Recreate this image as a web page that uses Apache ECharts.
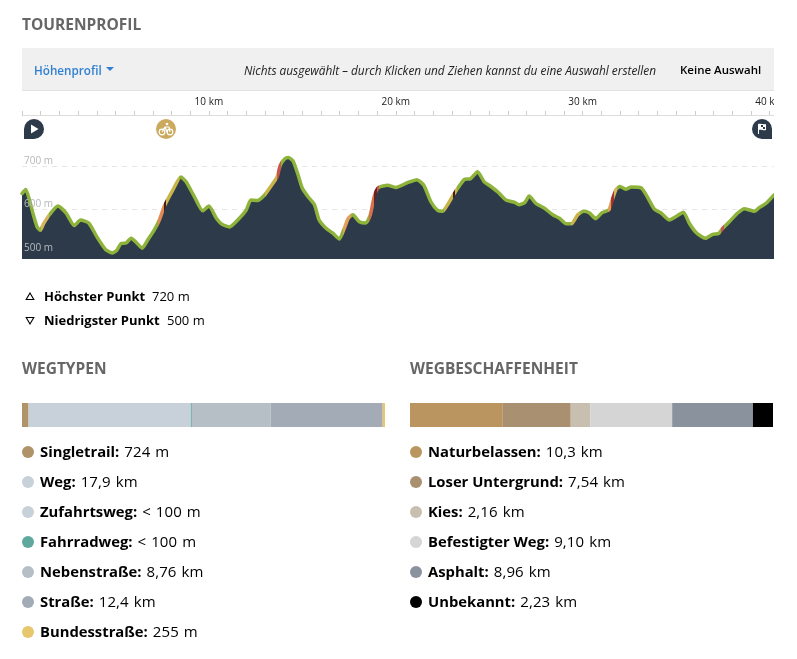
<!DOCTYPE html>
<html lang="de">
<head>
  <meta charset="UTF-8">
  <title>Tourenprofil</title>
  <script src="https://cdn.jsdelivr.net/npm/echarts@6/dist/echarts.min.js"></script>
  <style>
    body { margin: 0; background: #fff; font-family: "Open Sans", sans-serif; color: #000; }
    #page { position: relative; width: 797px; height: 659px; overflow: hidden; }
    #chart { position: absolute; left: 0; top: 0; width: 774px; height: 659px; }
    .abs { position: absolute; white-space: nowrap; }
    .heading { font-size: 15.5px; font-weight: 700; color: #666; line-height: 20px; }
    #toolbar { position: absolute; left: 22px; top: 48px; width: 752px; height: 42px; background: #f0f0f0; border-bottom: 1px solid #e2e2e2; }
    .bullet { position: absolute; width: 12px; height: 12px; border-radius: 50%; }
    .row { font-size: 15px; line-height: 20px; letter-spacing: 0.1px; word-spacing: 1px; }
    .row b { font-weight: 700; font-size: 14.8px; letter-spacing: 0; word-spacing: 0; }
    .pin { position: absolute; top: 119px; width: 20px; height: 20px; }
  </style>
</head>
<body>
<div id="page">
  <div id="toolbar"></div>
  <div id="chart"></div>
  <div class="abs heading" style="left:22px;top:14px">TOURENPROFIL</div>
  <div class="abs" style="left:34px;top:60px;font-size:11.7px;line-height:20px;font-weight:600;color:#2f7fd3">Höhenprofil</div>
  <div class="abs" style="left:106px;top:67px;width:0;height:0;border:4px solid transparent;border-top:4px solid #2f7fd3;border-bottom:0"></div>
  <div class="abs" style="left:244px;top:60px;font-size:11.85px;line-height:20px;font-style:italic;color:#222">Nichts ausgewählt – durch Klicken und Ziehen kannst du eine Auswahl erstellen</div>
  <div class="abs" style="left:680px;top:60px;font-size:11.5px;line-height:20px;font-weight:600">Keine Auswahl</div>

  <svg class="pin" style="left:24px" viewBox="0 0 20 20"><path d="M10 0a10 10 0 0 1 0 20H0V10A10 10 0 0 1 10 0z" fill="#2d3a4a"/><path d="M7 5.5l7.5 4.5L7 14.500z" fill="#fff"/></svg>
  <svg class="pin" style="left:156px" viewBox="0 0 20 20"><circle cx="10" cy="10" r="10" fill="#cba95f"/><g fill="none" stroke="#fff" stroke-width="1.200"><circle cx="6" cy="13" r="2.800"/><circle cx="14" cy="13" r="2.800"/><path d="M6 13l3-5h4l1 5M9 8l2 5"/></g><circle cx="11" cy="5" r="1.300" fill="#fff"/></svg>
  <svg class="pin" style="left:752px" viewBox="0 0 20 20"><path d="M10 0a10 10 0 0 1 10 10v10H10A10 10 0 0 1 10 0z" fill="#2d3a4a"/><path d="M6 15V5c3-1 5 1 8 0v6c-3 1-5-1-7 0v4z" fill="#fff"/><path d="M9 6h2v2H9zM11 8h2v2h-2z" fill="#2d3a4a"/></svg>

  <svg class="abs" style="left:25px;top:292px" width="10" height="9"><path d="M5 1l3.800 6.500H1.200z" fill="none" stroke="#000" stroke-width="1.100"/></svg>
  <div class="abs" style="left:44px;top:286px;font-size:13px;line-height:20px;font-weight:700">Höchster Punkt</div>
  <div class="abs" style="left:152px;top:286px;font-size:13px;line-height:20px">720 m</div>
  <svg class="abs" style="left:25px;top:316px" width="10" height="9"><path d="M5 8L8.800 1.500H1.200z" fill="none" stroke="#000" stroke-width="1.100"/></svg>
  <div class="abs" style="left:44px;top:310px;font-size:13px;line-height:20px;font-weight:700">Niedrigster Punkt</div>
  <div class="abs" style="left:167px;top:310px;font-size:13px;line-height:20px">500 m</div>

  <div class="abs heading" style="left:22px;top:358px">WEGTYPEN</div>
  <div class="abs heading" style="left:410px;top:358px">WEGBESCHAFFENHEIT</div>
</div>

<script>
  // Höhenprofil
  var profileKm = [0, 0.2, 0.4, 0.58, 0.8, 0.97, 1.15, 1.47, 1.92, 2.36, 2.8, 3.13, 3.57, 4.05, 4.47, 4.82, 5.07, 5.3, 5.57, 5.84, 6.14, 6.43, 6.73, 7.08, 7.35, 7.62, 8.07, 8.5, 8.78, 9.22, 9.67, 10, 10.4, 10.7, 11.1, 11.63, 12, 12.25, 12.6, 12.97, 13.32, 13.65, 13.82, 14.04, 14.25, 14.5, 14.75, 15, 15.3, 15.65, 15.9, 16.27, 16.62, 16.98, 17.25, 17.46, 17.7, 18.05, 18.4, 18.64, 18.85, 19.08, 19.57, 20, 20.63, 21.13, 21.5, 21.88, 22.24, 22.5, 22.77, 23.13, 23.66, 24, 24.38, 24.73, 25, 25.45, 25.9, 26.34, 26.6, 26.9, 27.14, 27.5, 27.96, 28.4, 28.76, 29.12, 29.4, 29.74, 30.05, 30.37, 30.7, 31.04, 31.4, 31.58, 31.8, 32, 32.3, 32.6, 33.13, 33.4, 33.84, 34.2, 34.64, 35, 35.39, 35.7, 36.07, 36.57, 36.96, 37.28, 37.5, 37.85, 38.3, 38.65, 39.2, 39.46, 39.8, 40.24];
  var profileM = [637, 646, 622, 592, 561, 552, 567, 588, 608, 592, 563, 576, 569, 534, 508, 500, 506, 522, 523, 534, 523, 511, 530, 553, 576, 608, 645, 675, 664, 630, 597, 608, 580, 566, 560, 580, 599, 622, 621, 633, 654, 675, 702, 716, 720, 712, 683, 649, 630, 611, 576, 557, 546, 532, 557, 580, 588, 572, 569, 588, 630, 651, 656, 651, 662, 669, 656, 618, 598, 596, 611, 637, 669, 671, 687, 664, 656, 641, 622, 617, 611, 616, 631, 614, 603, 588, 580, 567, 567, 588, 596, 592, 579, 593, 599, 622, 647, 653, 647, 652, 650, 634, 601, 592, 576, 584, 594, 569, 547, 534, 543, 545, 557, 572, 592, 602, 596, 605, 614, 634];
  var elevationTicks = [500, 600, 700];
  var kmTicks = [0, 1, 2, 3, 4, 5, 6, 7, 8, 9, 10, 11, 12, 13, 14, 15, 16, 17, 18, 19, 20, 21, 22, 23, 24, 25, 26, 27, 28, 29, 30, 31, 32, 33, 34, 35, 36, 37, 38, 39, 40];
  var kmLabels = [10, 20, 30, 40];

  // Steigungsabschnitte: von km, bis km, Farbe
  var gradeFrom = [1.03, 7.3, 7.58, 7.68, 13, 13.62, 17.2, 18.58, 18.85, 19, 22.6, 23.05, 23.15, 29.4, 31.38, 31.52, 31.66, 37.38];
  var gradeTo = [1.47, 7.58, 7.68, 8.4, 13.62, 13.85, 17.6, 18.85, 19, 19.1, 23.05, 23.15, 23.3, 29.85, 31.52, 31.66, 31.85, 37.55];
  var gradeColors = ['#d6b45c', '#e08a55', '#4a1c1c', '#c9b44a', '#c9b44a', '#c8564a', '#e0a058', '#d9704c', '#6a1f24', '#c8564a', '#c9b44a', '#4a1c1c', '#c9b44a', '#c9b44a', '#e0a058', '#a8322c', '#d6b45c', '#c8564a'];

  var wayTypes = ['Singletrail', 'Weg', 'Zufahrtsweg', 'Fahrradweg', 'Nebenstraße', 'Straße', 'Bundesstraße'];
  var wayTypeKm = [0.724, 17.9, 0.09, 0.09, 8.76, 12.4, 0.255];
  var wayTypeLabels = ['724 m', '17,9 km', '< 100 m', '< 100 m', '8,76 km', '12,4 km', '255 m'];
  var wayTypeColors = ['#b09368', '#c8d0d9', '#c8d0d9', '#5ea89e', '#b7bfc6', '#a3abb7', '#e8c66e'];

  var surfaces = ['Naturbelassen', 'Loser Untergrund', 'Kies', 'Befestigter Weg', 'Asphalt', 'Unbekannt'];
  var surfaceKm = [10.3, 7.54, 2.16, 9.1, 8.96, 2.23];
  var surfaceLabels = ['10,3 km', '7,54 km', '2,16 km', '9,10 km', '8,96 km', '2,23 km'];
  var surfaceColors = ['#ba9560', '#a89070', '#c9bfb0', '#d5d5d5', '#8a929e', '#000000'];

  function sum(list) {
    return list.reduce(function (a, b) { return a + b; }, 0);
  }

  // Legenden als echter Text
  function addLegend(x, names, labels, colors) {
    var page = document.getElementById('page');
    names.forEach(function (name, i) {
      var y = 451.5 + i * 30;
      var dot = document.createElement('div');
      dot.className = 'bullet';
      dot.style.left = x + 'px';
      dot.style.top = (y - 6) + 'px';
      dot.style.background = colors[i];
      page.appendChild(dot);

      var row = document.createElement('div');
      row.className = 'abs row';
      row.style.left = (x + 18) + 'px';
      row.style.top = (y - 11) + 'px';
      var b = document.createElement('b');
      b.textContent = name + ':';
      row.appendChild(b);
      row.appendChild(document.createTextNode(' ' + labels[i]));
      page.appendChild(row);
    });
  }
  addLegend(22, wayTypes, wayTypeLabels, wayTypeColors);
  addLegend(410, surfaces, surfaceLabels, surfaceColors);

  function stackedBars(names, values, colors, axisIndex, stack) {
    return names.map(function (name, i) {
      return {
        type: 'bar',
        name: name,
        stack: stack,
        xAxisIndex: axisIndex,
        yAxisIndex: axisIndex,
        barWidth: '100%',
        barMinHeight: 1, // sonst verschwindet der Fahrradweg
        silent: true,
        itemStyle: { color: colors[i] },
        data: [values[i]]
      };
    });
  }

  function hiddenValueAxis(gridIndex, total) {
    return { type: 'value', gridIndex: gridIndex, min: 0, max: total, show: false };
  }
  function hiddenCategoryAxis(gridIndex) {
    return { type: 'category', gridIndex: gridIndex, data: ['Anteil'], show: false };
  }

  var profileData = profileKm.map(function (km, i) { return [km, profileM[i]]; });
  var gradePieces = gradeFrom.map(function (from, i) {
    return { gte: from, lt: gradeTo[i], color: gradeColors[i] };
  });

  var chart = echarts.init(document.getElementById('chart'));
  chart.setOption({
    animation: false,
    grid: [
      // das 40-km-Label darf rechts abgeschnitten werden
      { left: 22, right: 0, top: 115, height: 144, outerBoundsMode: 'none' },
      { left: 22, top: 403, width: 363, height: 24 },
      { left: 410, top: 403, width: 363, height: 24 }
    ],
    xAxis: [
      {
        type: 'value',
        gridIndex: 0,
        position: 'top',
        min: 0,
        max: 40.24,
        splitLine: { show: false },
        axisLine: { show: true, lineStyle: { color: '#dddddd', width: 1 } },
        axisTick: { show: true, length: 4, inside: false, customValues: kmTicks, lineStyle: { color: '#cccccc' } },
        axisLabel: {
          margin: 8,
          fontSize: 10,
          fontFamily: 'Open Sans',
          color: '#222',
          hideOverlap: false,
          customValues: kmLabels,
          formatter: '{value} km'
        }
      },
      hiddenValueAxis(1, sum(wayTypeKm)),
      hiddenValueAxis(2, sum(surfaceKm))
    ],
    yAxis: [
      {
        // nur die gestrichelten Linien, hinter der Fläche
        type: 'value',
        gridIndex: 0,
        position: 'left',
        min: 486,
        max: 818,
        axisLine: { show: false },
        axisTick: { show: false, customValues: elevationTicks },
        axisLabel: { show: false },
        splitLine: { show: true, lineStyle: { color: '#e6e6e6', type: [5, 5], width: 1 } }
      },
      hiddenCategoryAxis(1),
      hiddenCategoryAxis(2),
      {
        // Beschriftung liegt über der Fläche
        type: 'value',
        gridIndex: 0,
        position: 'left',
        min: 486,
        max: 818,
        z: 5,
        axisLine: { show: false, onZero: false },
        axisTick: { show: false },
        splitLine: { show: false },
        axisLabel: {
          inside: true,
          customValues: elevationTicks,
          margin: 2,
          fontSize: 10,
          fontFamily: 'Open Sans',
          color: '#b4b8bd',
          verticalAlign: 'bottom',
          formatter: '{value} m'
        }
      }
    ],
    visualMap: {
      type: 'piecewise',
      show: false,
      dimension: 0,
      seriesIndex: 1,
      pieces: gradePieces,
      outOfRange: { color: '#8db33a' }
    },
    series: [
      {
        type: 'line',
        name: 'Fläche',
        data: profileData,
        smooth: 0.2,
        symbol: 'none',
        silent: true,
        lineStyle: { width: 0 },
        areaStyle: { color: '#2d3a4a', opacity: 1 }
      },
      {
        type: 'line',
        name: 'Höhe',
        data: profileData,
        smooth: 0.2,
        symbol: 'none',
        silent: true,
        lineStyle: { width: 3.5, cap: 'round', join: 'round' }
      }
    ].concat(
      stackedBars(wayTypes, wayTypeKm, wayTypeColors, 1, 'wege'),
      stackedBars(surfaces, surfaceKm, surfaceColors, 2, 'belag')
    )
  });
</script>
</body>
</html>
